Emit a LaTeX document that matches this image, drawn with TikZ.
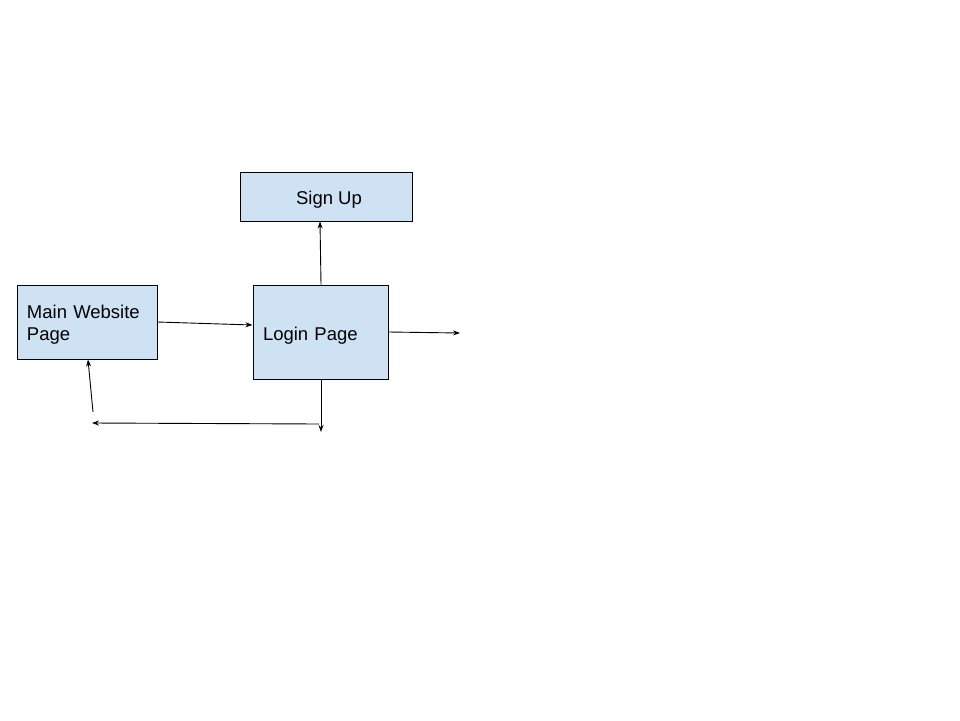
\documentclass[tikz,border=0pt]{standalone}
\usepackage{fontspec}
\setmainfont{Liberation Sans}
\usetikzlibrary{arrows.meta}
\definecolor{boxfill}{HTML}{CFE2F3}
% shift a label down without changing its measured size
\newcommand{\droptext}[1]{\raisebox{-3.5pt}[\height][\depth]{#1}}
\begin{document}
\begin{tikzpicture}[x=1pt,y=-1pt,
  pagebox/.style={draw=black, fill=boxfill, line width=1pt, rectangle,
    inner sep=0pt, font=\fontsize{18.5}{22}\selectfont},
  flow/.style={draw=black, line width=0.9pt, -{Stealth[length=7pt,width=5pt]}}]
  \useasboundingbox (0,0) rectangle (960,720);
  \fill[white] (0,0) rectangle (960,720);

  % pages
  \node[pagebox, minimum width=172pt, minimum height=49pt] (signup) at (326,196.5)
    {\droptext{\hspace*{6pt}Sign Up}};
  \node[pagebox, minimum width=140pt, minimum height=74pt, text width=120pt, align=left] (main) at (87,322)
    {\droptext{\begin{tabular}{@{}l@{}}Main Website\\Page\end{tabular}}};
  \node[pagebox, minimum width=135pt, minimum height=94pt, text width=115pt, align=left] (login) at (320.5,332)
    {\droptext{Login Page}};

  % loose ends
  \coordinate (exitR) at (460,333);
  \coordinate (exitD) at (321,432);
  \coordinate (turn) at (319,424);
  \coordinate (backL) at (92,423);
  \coordinate (backS) at (93,412);

  % connectors
  \draw[flow] (main.east |- 0,322) -- (login.west |- 0,325);
  \draw[flow] (login.north -| 321,0) -- (signup.south -| 320,0);
  \draw[flow] (login.east |- 0,332) -- (exitR);
  \draw[flow] (login.south -| 321,0) -- (exitD);
  \draw[flow] (turn) -- (backL);
  \draw[flow] (backS) -- (main.south -| 88,0);
\end{tikzpicture}
\end{document}
